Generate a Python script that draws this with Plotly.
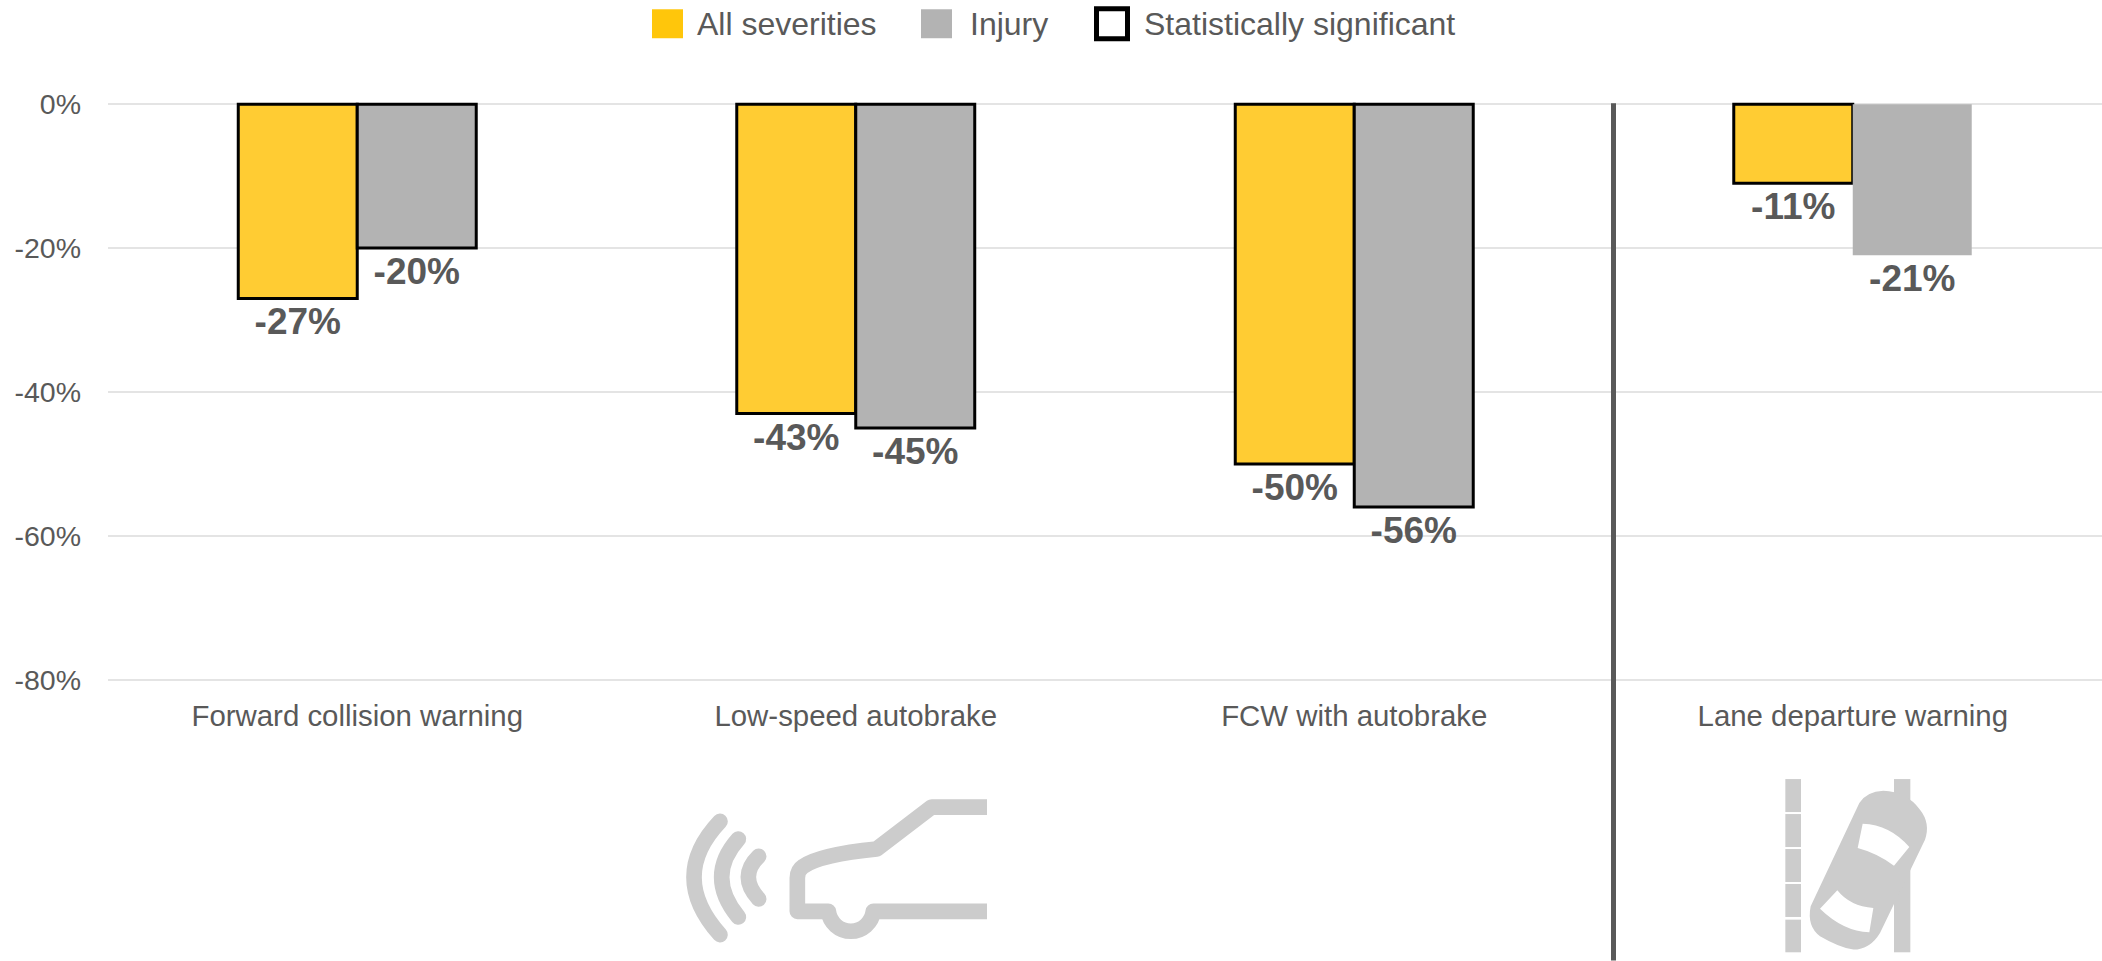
import base64
import plotly.graph_objects as go

W, H = 2102, 961
PLOT_L = 108
PX_PER_UNIT = 7.2
Y_TOP, Y_BOTTOM = 1, -81  # one unit of headroom keeps the 0% and -80% gridlines drawn
PLOT_T = 104 - Y_TOP * PX_PER_UNIT
PLOT_B = 104 - Y_BOTTOM * PX_PER_UNIT

categories = ["Forward collision warning", "Low-speed autobrake", "FCW with autobrake", "Lane departure warning"]
all_severities = [-27, -43, -50, -11]
injury = [-20, -45, -56, -21]
all_significant = [True, True, True, True]
injury_significant = [True, True, True, False]
tick_values = [0, -20, -40, -60, -80]
tick_labels = ["0%", "-20%", "-40%", "-60%", "-80%"]

TEXT = "#595959"
FONT = "Liberation Sans"
YELLOW = "#FFCC33"
GRAY = "#B3B3B3"
ICON = "#CCCCCC"


def fx(px):
    return (px - PLOT_L) / (W - PLOT_L)


def fy(py):
    return (PLOT_B - py) / (PLOT_B - PLOT_T)


def svg_uri(w, h, body):
    svg = f'<svg xmlns="http://www.w3.org/2000/svg" width="{w}" height="{h}" viewBox="0 0 {w} {h}">{body}</svg>'
    return "data:image/svg+xml;base64," + base64.b64encode(svg.encode()).decode()


def bar_trace(name, values, significant, color):
    return go.Bar(
        name=name,
        x=categories,
        y=values,
        marker=dict(
            color=color,
            line=dict(color="#000000", width=[3 if s else 0 for s in significant]),
        ),
        text=[f"{v}%" for v in values],
        textposition="outside",
        textangle=0,
        textfont=dict(family=FONT, size=37, color=TEXT, weight=700),
        cliponaxis=False,
        showlegend=False,
    )


fig = go.Figure([
    bar_trace("All severities", all_severities, all_significant, YELLOW),
    bar_trace("Injury", injury, injury_significant, GRAY),
])

# Key at the top of the chart
shapes = []
for x0, x1, y0, y1, fill, line in [
    (652, 683, 9, 38, "#FFC60B", None),
    (921, 952, 9, 38, GRAY, None),
    (1096.5, 1127.5, 8.5, 38.5, "#FFFFFF", "#000000"),
]:
    shapes.append(dict(
        type="rect", xref="paper", yref="paper",
        x0=fx(x0), x1=fx(x1), y0=fy(y0), y1=fy(y1),
        fillcolor=fill,
        line=dict(color=line or fill, width=5 if line else 0),
    ))

# Rule separating the crash-avoidance systems from lane departure
shapes.append(dict(
    type="line", xref="paper", yref="paper",
    x0=fx(1613.5), x1=fx(1613.5), y0=fy(103), y1=fy(961),
    line=dict(color=TEXT, width=5),
))

annotations = [
    dict(text=label, xref="paper", yref="paper", x=fx(px), y=fy(23.5),
         xanchor="left", yanchor="middle", showarrow=False,
         font=dict(family=FONT, size=32, color=TEXT))
    for label, px in [("All severities", 695), ("Injury", 968), ("Statistically significant", 1142)]
]

# Sensor waves and car front
car_body = (
    f'<g fill="none" stroke="{ICON}" stroke-width="47" stroke-linecap="round" stroke-linejoin="round">'
    '<path d="M180,125 Q24,290 180,465"/>'
    '<path d="M235,178 Q135,290 235,412"/>'
    '<path d="M296,230 Q234,290 296,358"/>'
    '</g>'
    f'<path fill="none" stroke="{ICON}" stroke-width="47" stroke-linejoin="round" '
    'd="M981,82 H815 L650,208 Q480,225 430,260 Q412,272 412,295 V395 H505 '
    'A68,68 0 0 0 640,395 H981"/>'
)

# Lane markings and a car drifting across the solid line
lane_dashes = "".join(
    f'<rect x="586" y="{y0}" width="47" height="{y1 - y0}" fill="{ICON}"/>'
    for y0, y1 in [(58, 157), (163, 262), (268, 367), (373, 472), (480, 578)]
)
lane_car = (
    lane_dashes
    + f'<rect x="912" y="58" width="49" height="520" fill="{ICON}"/>'
    + f'<path fill="{ICON}" d="M808,130 Q830,95 880,93 Q950,95 990,150 Q1022,190 1005,240 '
      'L870,520 Q840,570 790,570 Q750,565 690,530 Q650,500 662,440 Z"/>'
    + '<path fill="#FFFFFF" d="M818,192 Q900,195 958,262 L912,318 Q860,280 803,265 Z"/>'
    + '<path fill="#FFFFFF" d="M742,392 Q780,440 850,445 L838,518 Q760,515 690,447 Z"/>'
)

images = [
    dict(source=svg_uri(1080, 543, car_body), xref="paper", yref="paper",
         x=fx(660), y=fy(780), sizex=360 / (W - PLOT_L), sizey=181 / (PLOT_B - PLOT_T),
         xanchor="left", yanchor="top", sizing="stretch", layer="above"),
    dict(source=svg_uri(1080, 603, lane_car), xref="paper", yref="paper",
         x=fx(1590), y=fy(760), sizex=360 / (W - PLOT_L), sizey=201 / (PLOT_B - PLOT_T),
         xanchor="left", yanchor="top", sizing="stretch", layer="above"),
]

fig.update_layout(
    width=W,
    height=H,
    margin=dict(l=PLOT_L, r=0, t=PLOT_T, b=H - PLOT_B, pad=0),
    paper_bgcolor="#FFFFFF",
    plot_bgcolor="#FFFFFF",
    barmode="group",
    bargap=0.5226,
    bargroupgap=0,
    font=dict(family=FONT, color=TEXT),
    shapes=shapes,
    annotations=annotations,
    images=images,
    xaxis=dict(
        type="category",
        showgrid=False,
        zeroline=False,
        showline=False,
        ticks="outside",
        ticklen=3,
        tickcolor="rgba(0,0,0,0)",
        tickfont=dict(family=FONT, size=29.4, color=TEXT),
    ),
    yaxis=dict(
        range=[Y_BOTTOM, Y_TOP],
        tickmode="array",
        tickvals=tick_values,
        ticktext=tick_labels,
        showgrid=True,
        gridcolor="#E4E4E4",
        gridwidth=1.5,
        zeroline=False,
        showline=False,
        ticks="",
        ticklabelstandoff=26,
        tickfont=dict(family=FONT, size=28.5, color=TEXT),
    ),
)

fig.write_html("out.html", config=dict(displayModeBar=False))
